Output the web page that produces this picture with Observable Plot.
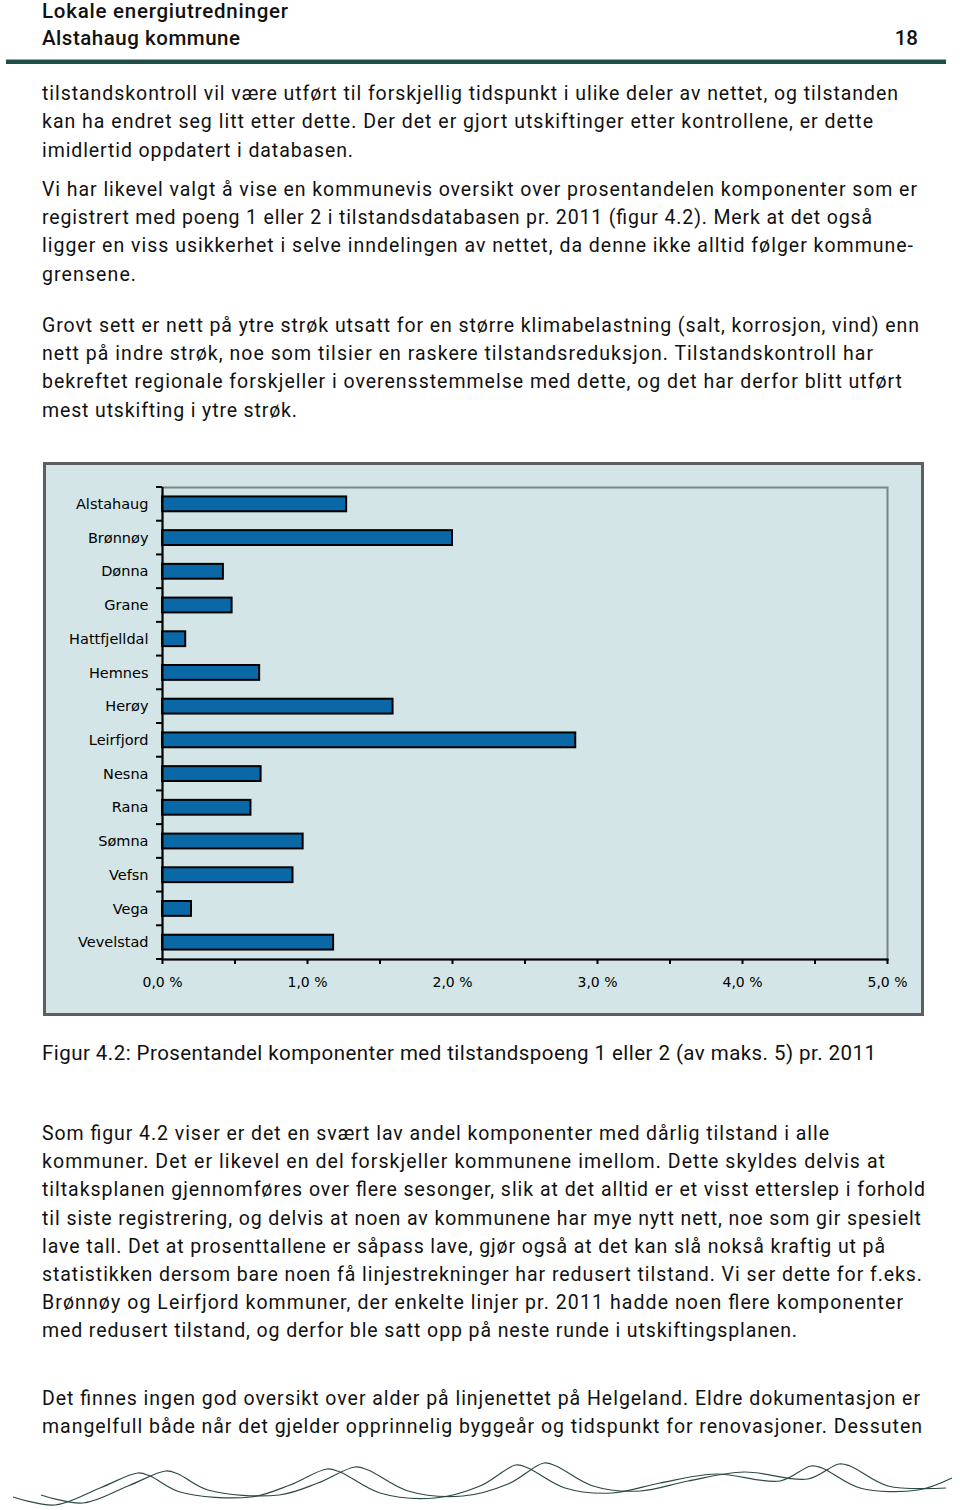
<!DOCTYPE html>
<html><head><meta charset="utf-8">
<script src="https://cdn.jsdelivr.net/npm/d3@7"></script>
<script src="https://cdn.jsdelivr.net/npm/@observablehq/plot@0.6"></script>
<style>
html,body{margin:0;padding:0;background:#fff;}
#page{position:relative;width:960px;height:1510px;overflow:hidden;background:#fff;}
#deco{position:absolute;left:0;top:0;}
#chartbox{position:absolute;left:43px;top:462px;width:881px;height:554px;box-sizing:border-box;border:3px solid #5e5e5e;background:#d3e5e6;}
#chartbox svg{position:absolute;left:0;top:0;}
</style></head>
<body><div id="page"><svg id="deco" width="960" height="1510"></svg><div id="chartbox"></div></div>
<script>
// ---------- chart data ----------
const municipalities = ["Alstahaug","Brønnøy","Dønna","Grane","Hattfjelldal","Hemnes","Herøy","Leirfjord","Nesna","Rana","Sømna","Vefsn","Vega","Vevelstad"];
const shares = [1.27, 2.00, 0.42, 0.48, 0.16, 0.67, 1.59, 2.85, 0.68, 0.61, 0.97, 0.90, 0.20, 1.18];
const xTickValues = [0, 0.5, 1, 1.5, 2, 2.5, 3, 3.5, 4, 4.5, 5];
const xLabelValues = [0, 1, 2, 3, 4, 5];

// ---------- page text ----------
const headerTitle = "Lokale energiutredninger";
const headerSub = "Alstahaug kommune";
const pageNumber = "18";
const paragraph1 = [
  "tilstandskontroll vil være utført til forskjellig tidspunkt i ulike deler av nettet, og tilstanden",
  "kan ha endret seg litt etter dette. Der det er gjort utskiftinger etter kontrollene, er dette",
  "imidlertid oppdatert i databasen."
];
const paragraph2 = [
  "Vi har likevel valgt å vise en kommunevis oversikt over prosentandelen komponenter som er",
  "registrert med poeng 1 eller 2 i tilstandsdatabasen pr. 2011 (figur 4.2). Merk at det også",
  "ligger en viss usikkerhet i selve inndelingen av nettet, da denne ikke alltid følger kommune-",
  "grensene."
];
const paragraph3 = [
  "Grovt sett er nett på ytre strøk utsatt for en større klimabelastning (salt, korrosjon, vind) enn",
  "nett på indre strøk, noe som tilsier en raskere tilstandsreduksjon. Tilstandskontroll har",
  "bekreftet regionale forskjeller i overensstemmelse med dette, og det har derfor blitt utført",
  "mest utskifting i ytre strøk."
];
const caption = "Figur 4.2: Prosentandel komponenter med tilstandspoeng 1 eller 2 (av maks. 5) pr. 2011";
const paragraph4 = [
  "Som figur 4.2 viser er det en svært lav andel komponenter med dårlig tilstand i alle",
  "kommuner. Det er likevel en del forskjeller kommunene imellom. Dette skyldes delvis at",
  "tiltaksplanen gjennomføres over flere sesonger, slik at det alltid er et visst etterslep i forhold",
  "til siste registrering, og delvis at noen av kommunene har mye nytt nett, noe som gir spesielt",
  "lave tall. Det at prosenttallene er såpass lave, gjør også at det kan slå nokså kraftig ut på",
  "statistikken dersom bare noen få linjestrekninger har redusert tilstand. Vi ser dette for f.eks.",
  "Brønnøy og Leirfjord kommuner, der enkelte linjer pr. 2011 hadde noen flere komponenter",
  "med redusert tilstand, og derfor ble satt opp på neste runde i utskiftingsplanen."
];
const paragraph5 = [
  "Det finnes ingen god oversikt over alder på linjenettet på Helgeland. Eldre dokumentasjon er",
  "mangelfull både når det gjelder opprinnelig byggeår og tidspunkt for renovasjoner. Dessuten"
];

// ---------- layout (positions kept separate from content) ----------
const textLeft = 42;
const bodyFont = "Roboto, 'Noto Sans', sans-serif";
const layout = [
  {lines: paragraph1, base: 99.5, step: 28.5, rights: [898, 873, 353], size: 19.5},
  {lines: paragraph2, base: 195.5, step: 28.4, rights: [917, 872, 913, 136], size: 19.5},
  {lines: paragraph3, base: 331.5, step: 28.4, rights: [919, 873, 902, 297], size: 19.5},
  {lines: [caption], base: 1060, step: 0, rights: [876], size: 20.5},
  {lines: paragraph4, base: 1140, step: 28.2, rights: [829, 885, 925, 921, 885, 922, 903, 797], size: 19.5},
  {lines: paragraph5, base: 1405, step: 28.3, rights: [920, 922], size: 19.5}
];
const wavePoints = [[13,1497],[55,1505],[100,1488],[138,1473],[150,1476],[180,1492],[251,1497],[290,1485],[327,1469],[340,1472],[380,1493],[435,1498],[480,1486],[516,1465],[528,1468],[565,1488],[612,1493],[660,1483],[716,1474],[780,1481],[811,1466],[822,1468],[860,1488],[918,1490],[952,1478]];

// ---------- chart ----------
const data = municipalities.map((name, i) => ({name, share: shares[i]}));
const fmt = d => xLabelValues.includes(d) ? d.toFixed(1).replace(".", ",") + " %" : "";

const chart = Plot.plot({
  width: 875, height: 548,
  marginTop: 22, marginRight: 34, marginBottom: 54, marginLeft: 116,
  style: {background: "transparent", fontFamily: "'DejaVu Sans', Verdana, sans-serif", fontSize: "14px", color: "#000", overflow: "visible"},
  x: {domain: [0, 5], label: null},
  y: {domain: municipalities, paddingInner: 0.56, paddingOuter: 0.28, round: false, label: null},
  marks: [
    Plot.frame({stroke: "#7b8486", strokeWidth: 2}),
    Plot.barX(data, {x: "share", y: "name", fill: "#0a68a6", stroke: "#000", strokeWidth: 2}),
    Plot.ruleX([0], {stroke: "#000", strokeWidth: 2}),
    Plot.frame({anchor: "bottom", stroke: "#000", strokeWidth: 2}),
    Plot.axisY({tickSize: 0, tickPadding: 14, fontSize: 14.5, fill: "#000", label: null}),
    Plot.axisX({ticks: xTickValues, tickSize: 5, tickPadding: 13, strokeWidth: 2, stroke: "#000", fill: "#000", fontSize: 14, tickFormat: fmt, label: null})
  ]
});
document.getElementById("chartbox").appendChild(chart);

// category boundary ticks on the y axis, from Plot's own scales
const ys = chart.scale("y");
const xs = chart.scale("x");
const step = ys.step ?? (ys.range[1] - ys.range[0]) / municipalities.length;
const bw = ys.bandwidth ?? step * 0.44;
const gap = (step - bw) / 2;
const x0 = xs.apply(0);
const bounds = municipalities.map(n => ys.apply(n) - gap);
bounds.push(ys.apply(municipalities[municipalities.length - 1]) + bw + gap);
d3.select(chart).append("g")
  .selectAll("line").data(bounds).join("line")
  .attr("x1", x0 - 6).attr("x2", x0).attr("y1", d => d).attr("y2", d => d)
  .attr("stroke", "#000").attr("stroke-width", 2);

// ---------- page text ----------
const deco = d3.select("#deco");
const headFont = "Roboto, 'Noto Sans', sans-serif";
function fitText(sel, str, x, y, right, size, family, anchor, weight) {
  const t = sel.append("text").attr("x", x).attr("y", y)
    .attr("font-family", family).attr("font-size", size).attr("fill", "#111").text(str);
  if (weight) t.attr("font-weight", weight);
  if (anchor) t.attr("text-anchor", anchor);
  if (right != null) {
    t.attr("textLength", right - x).attr("lengthAdjust", "spacing");
  }
  return t;
}
fitText(deco, headerTitle, textLeft, 18, 288, 20.5, headFont, null, 500);
fitText(deco, headerSub, textLeft, 44.5, 240, 20.5, headFont, null, 500);
fitText(deco, pageNumber, 918, 44.5, null, 20.5, headFont, "end", 500);
deco.append("rect").attr("x", 6).attr("y", 60).attr("width", 940).attr("height", 4).attr("fill", "#1f4e49");
deco.append("rect").attr("x", 6).attr("y", 59).attr("width", 940).attr("height", 1).attr("fill", "#7fb3ad");

layout.forEach(p => {
  p.lines.forEach((ln, i) => {
    fitText(deco, ln, textLeft, p.base + i * p.step, p.rights[i], p.size, bodyFont);
  });
});

const wave = d3.line().curve(d3.curveCatmullRom.alpha(0.5));
deco.append("path").attr("d", wave(wavePoints)).attr("fill", "none").attr("stroke", "#2c4a46").attr("stroke-width", 1.2);
deco.append("path").attr("d", wave(wavePoints.map(([x, y]) => [x + 28, y - 2]).filter(([x]) => x <= 958)))
  .attr("fill", "none").attr("stroke", "#2c4a46").attr("stroke-width", 1.2);
</script>
</body></html>
